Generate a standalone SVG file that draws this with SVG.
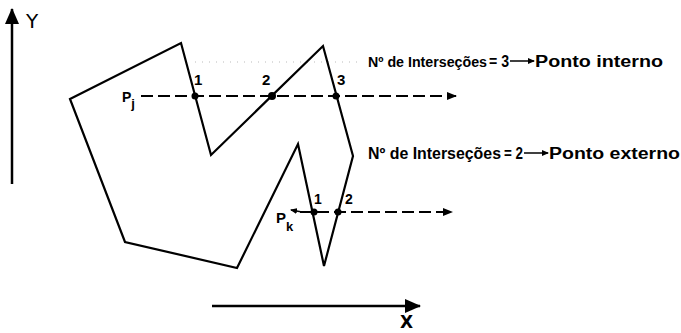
<svg xmlns="http://www.w3.org/2000/svg" width="681" height="333" viewBox="0 0 681 333">
<defs>
<marker id="ah" markerWidth="10" markerHeight="8" refX="9" refY="4" orient="auto" markerUnits="userSpaceOnUse">
<path d="M0,0 L10,4 L0,8 Z" fill="#000"/>
</marker>
<marker id="axh" markerWidth="16" markerHeight="14" refX="15" refY="7" orient="auto" markerUnits="userSpaceOnUse">
<path d="M0,0 L16,7 L0,14 Z" fill="#000"/>
</marker>
<marker id="sah" markerWidth="7" markerHeight="6" refX="6" refY="3" orient="auto" markerUnits="userSpaceOnUse">
<path d="M0,0 L7,3 L0,6 Z" fill="#000"/>
</marker>
</defs>
<style>
.t{font-family:"Liberation Sans",Arial,sans-serif;font-weight:bold;fill:#000}
.ax{font-family:"DejaVu Sans","Liberation Sans",sans-serif;fill:#000}
.poly{fill:none;stroke:#000;stroke-width:2.2;stroke-linejoin:miter}
.dash{stroke:#000;stroke-width:2;stroke-dasharray:12 5;fill:none}
.axis{stroke:#000;stroke-width:2.5;fill:none}
.dot{fill:#000}
</style>
<rect width="681" height="333" fill="#fff"/>
<line x1="195" y1="62" x2="360" y2="62" stroke="#bbb" stroke-width="1" stroke-dasharray="1 6"/>
<g id="axes">
<line class="axis" x1="12" y1="184" x2="12" y2="9" marker-end="url(#axh)"/>
<text class="ax" x="26" y="28" font-size="20">Y</text>
<line class="axis" x1="212" y1="306" x2="420" y2="306" marker-end="url(#axh)"/>
<text class="ax" x="400" y="328" font-size="17" font-weight="bold">X</text>
</g>
<g id="polygon">
<polygon class="poly" points="70,99 181,43 211,155 323,46 353,156 324,266 298,144 237,268 125,242"/>
</g>
<g id="connectors">
<line class="dash" x1="141" y1="96" x2="456" y2="96" marker-end="url(#ah)"/>
<line class="dash" x1="300" y1="212" x2="452" y2="212" stroke-dasharray="14 4" marker-end="url(#ah)"/>
<line x1="302" y1="212" x2="291" y2="210" stroke="#000" stroke-width="1.5" marker-end="url(#sah)"/>
<line x1="510" y1="61" x2="534" y2="61" stroke="#000" stroke-width="1.5" marker-end="url(#sah)"/>
<line x1="524" y1="153" x2="548" y2="153" stroke="#000" stroke-width="1.5" marker-end="url(#sah)"/>
</g>
<g id="intersections">
<circle class="dot" cx="195" cy="96" r="3.5"/>
<circle class="dot" cx="272" cy="96" r="4"/>
<circle class="dot" cx="336" cy="96" r="3.5"/>
<circle class="dot" cx="314" cy="212" r="3.5"/>
<circle class="dot" cx="338" cy="212" r="3.5"/>
</g>
<g id="labels">
<text class="t" x="194" y="85" font-size="15">1</text>
<text class="t" x="262" y="85" font-size="15">2</text>
<text class="t" x="337" y="85" font-size="15">3</text>
<text class="t" x="314" y="204" font-size="14">1</text>
<text class="t" x="345" y="204" font-size="14">2</text>
<text class="t" x="122" y="102" font-size="14">P<tspan font-size="13" dy="6">j</tspan></text>
<text class="t" x="276" y="223" font-size="15">P<tspan font-size="13" dy="8">k</tspan></text>
</g>
<g id="result-internal">
<text class="t" x="368" y="67" font-size="14" textLength="119" lengthAdjust="spacingAndGlyphs">Nº de Interseções</text>
<text class="t" x="489" y="67" font-size="16" textLength="20" lengthAdjust="spacingAndGlyphs">= 3</text>
<text class="t" x="535" y="67" font-size="16" textLength="128" lengthAdjust="spacingAndGlyphs">Ponto interno</text>
</g>
<g id="result-external">
<text class="t" x="368" y="159" font-size="16" textLength="133" lengthAdjust="spacingAndGlyphs">Nº de Interseções</text>
<text class="t" x="504" y="159" font-size="16" textLength="19" lengthAdjust="spacingAndGlyphs">= 2</text>
<text class="t" x="549" y="159" font-size="16" textLength="131" lengthAdjust="spacingAndGlyphs">Ponto externo</text>
</g>
</svg>
